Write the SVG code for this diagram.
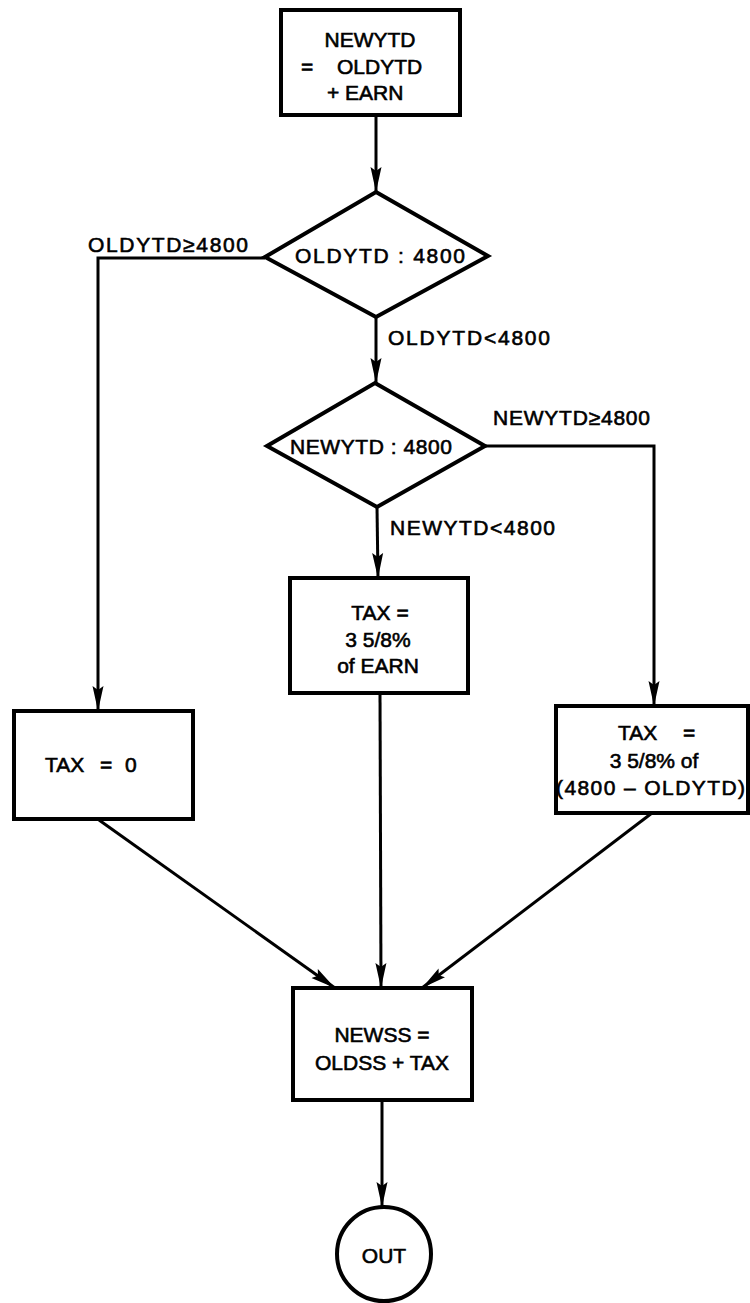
<svg xmlns="http://www.w3.org/2000/svg" width="750" height="1303" viewBox="0 0 750 1303">
<style>
.box{fill:#fff;stroke:#000;stroke-width:4}
.ln{fill:none;stroke:#000;stroke-width:3}
.t{font-family:"Liberation Sans",Arial,sans-serif;font-size:21px;fill:#000;stroke:#000;stroke-width:0.6}
.c{text-anchor:middle}
</style>
<defs>
<marker id="arr" markerUnits="userSpaceOnUse" markerWidth="26" markerHeight="12" refX="25" refY="6" orient="auto">
<path d="M0,0.5 L25,6 L0,11.5 L4,6 Z" fill="#000"/>
</marker>
</defs>
<rect width="750" height="1303" fill="#fff"/>
<g id="connectors">
<line class="ln" x1="376" y1="115" x2="376" y2="192" marker-end="url(#arr)"/>
<polyline class="ln" points="265,258 98,258 98,711" marker-end="url(#arr)"/>
<line class="ln" x1="376" y1="317" x2="376" y2="383" marker-end="url(#arr)"/>
<polyline class="ln" points="485,446 654,446 654,706" marker-end="url(#arr)"/>
<line class="ln" x1="377" y1="507" x2="378" y2="578" marker-end="url(#arr)"/>
<line class="ln" x1="99" y1="820" x2="335" y2="988" marker-end="url(#arr)"/>
<line class="ln" x1="380" y1="693" x2="381" y2="988" marker-end="url(#arr)"/>
<line class="ln" x1="652" y1="813" x2="422" y2="988" marker-end="url(#arr)"/>
<line class="ln" x1="382" y1="1100" x2="382" y2="1207" marker-end="url(#arr)"/>
<text class="t" x="88" y="252" textLength="160" lengthAdjust="spacing">OLDYTD≥4800</text>
<text class="t" x="388" y="345" textLength="162" lengthAdjust="spacing">OLDYTD&lt;4800</text>
<text class="t" x="493" y="425" textLength="157" lengthAdjust="spacing">NEWYTD≥4800</text>
<text class="t" x="390" y="535" textLength="165" lengthAdjust="spacing">NEWYTD&lt;4800</text>
</g>
<g id="n1">
<rect class="box" x="281" y="10" width="179" height="105"/>
<text class="t c" x="370" y="47">NEWYTD</text>
<text class="t"><tspan x="301" y="74">=</tspan><tspan x="337" y="74">OLDYTD</tspan></text>
<text class="t"><tspan x="327" y="100">+</tspan><tspan x="345" y="100">EARN</tspan></text>
</g>
<g id="d1">
<polygon class="box" points="376,192 488,256 376,317 265,257"/>
<text class="t" x="295" y="263" textLength="170" lengthAdjust="spacing">OLDYTD : 4800</text>
</g>
<g id="d2">
<polygon class="box" points="375,383 485,446 377,507 267,446"/>
<text class="t" x="290" y="454" textLength="162" lengthAdjust="spacing">NEWYTD : 4800</text>
</g>
<g id="n2">
<rect class="box" x="290" y="578" width="178" height="115"/>
<text class="t c" x="380" y="620">TAX =</text>
<text class="t c" x="378" y="647">3 5/8%</text>
<text class="t c" x="378" y="673">of EARN</text>
</g>
<g id="n3">
<rect class="box" x="14" y="711" width="179" height="108"/>
<text class="t"><tspan x="45" y="772">TAX</tspan><tspan x="100" y="772">=</tspan><tspan x="125" y="772">0</tspan></text>
</g>
<g id="n4">
<rect class="box" x="556" y="706" width="192" height="107"/>
<text class="t"><tspan x="618" y="740">TAX</tspan><tspan x="683" y="740">=</tspan></text>
<text class="t c" x="654" y="768">3 5/8% of</text>
<text class="t" x="556" y="795" textLength="189" lengthAdjust="spacing">(4800 – OLDYTD)</text>
</g>
<g id="n5">
<rect class="box" x="293" y="988" width="179" height="112"/>
<text class="t c" x="382" y="1042">NEWSS =</text>
<text class="t c" x="382" y="1070">OLDSS + TAX</text>
</g>
<g id="out">
<circle class="box" cx="384" cy="1254" r="47" stroke-width="3"/>
<text class="t c" x="384" y="1263">OUT</text>
</g>
</svg>
